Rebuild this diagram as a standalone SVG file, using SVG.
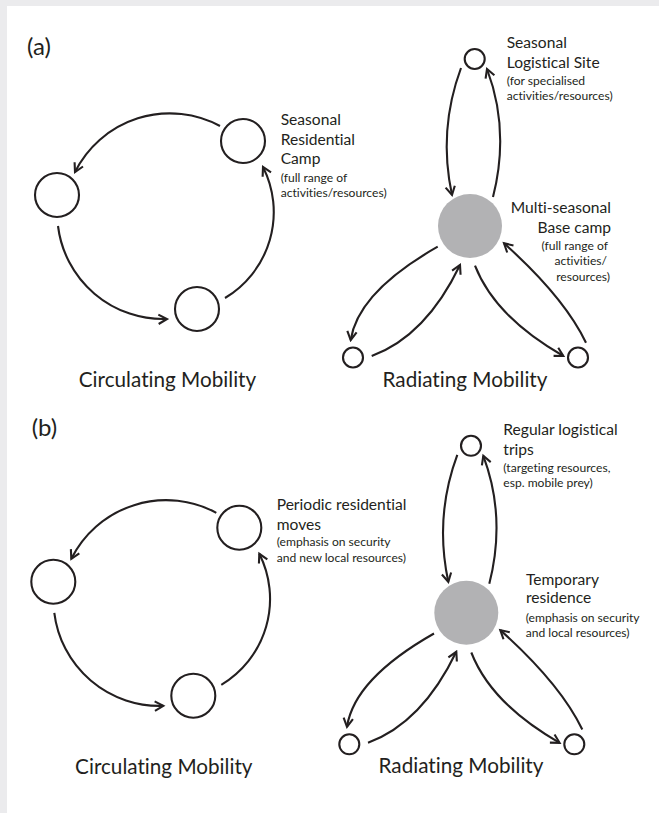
<svg xmlns="http://www.w3.org/2000/svg" width="659" height="813" viewBox="0 0 659 813">
<defs>
<style>
.n{fill:none;stroke:#231f20;stroke-width:2.1}
.hub{fill:#b2b2b4;stroke:none}
.c{fill:none;stroke:#231f20;stroke-width:2.1;marker-end:url(#arr)}
text{font-family:Lato,"Liberation Sans",sans-serif;fill:#231f20;font-variant-ligatures:none;font-feature-settings:"liga" 0}
.t{font-size:20.7px;text-anchor:middle}
.l{font-size:15.6px}
.s{font-size:12.1px}
.p{font-size:24px}
.e{text-anchor:end}
</style>
<marker id="arr" markerWidth="13" markerHeight="13" viewBox="0 0 13 13" refX="10.5" refY="6.5" orient="auto" markerUnits="userSpaceOnUse">
<path d="M2,1.8 L10.5,6.5 L2,11.2" fill="none" stroke="#231f20" stroke-width="2.1"/>
</marker>
</defs>
<rect x="0" y="0" width="659" height="813" fill="#ebebed"/>
<rect x="7" y="6" width="652" height="807" fill="#ffffff"/>

<g id="connectors">
<g id="connectors-a">
<path class="c" d="M220,126 A106,106 0 0 0 75,172"/>
<path class="c" d="M58,226 A106,106 0 0 0 167,319"/>
<path class="c" d="M225,298 A100,100 0 0 0 263,167"/>
<path class="c" d="M461,68 Q438,130 452,195"/>
<path class="c" d="M493,197 Q510,130 487,69"/>
<path class="c" d="M437.7,246.7 Q358,292 350.7,340"/>
<path class="c" d="M371.7,356 Q426,336 460,265"/>
<path class="c" d="M475,265.7 Q495,317 563.3,356"/>
<path class="c" d="M586,342.7 Q564,297 504,243.3"/>
</g>
<g id="connectors-b" transform="translate(-3.7,386.8)">
<path class="c" d="M220,126 A106,106 0 0 0 75,172"/>
<path class="c" d="M58,226 A106,106 0 0 0 167,319"/>
<path class="c" d="M225,298 A100,100 0 0 0 263,167"/>
<path class="c" d="M461,68 Q438,130 452,195"/>
<path class="c" d="M493,197 Q510,130 487,69"/>
<path class="c" d="M437.7,246.7 Q358,292 350.7,340"/>
<path class="c" d="M371.7,356 Q426,336 460,265"/>
<path class="c" d="M475,265.7 Q495,317 563.3,356"/>
<path class="c" d="M586,342.7 Q564,297 504,243.3"/>
</g>
</g>

<g id="panel-a">
<text class="p" x="27" y="55">(a)</text>
<g id="a-circ-camp">
<circle class="n" cx="243" cy="141" r="22"/>
<text class="l" x="280.7" y="125">Seasonal</text>
<text class="l" x="280.7" y="145">Residential</text>
<text class="l" x="280.7" y="164">Camp</text>
<text class="s" x="280.7" y="181.7">(full range of</text>
<text class="s" x="280.7" y="196.7">activities/resources)</text>
</g>
<g id="a-circ-left"><circle class="n" cx="57" cy="195" r="22"/></g>
<g id="a-circ-bottom"><circle class="n" cx="197" cy="309" r="22"/></g>
<text class="t" x="167.5" y="387.3">Circulating Mobility</text>

<g id="a-rad-logistic">
<circle class="n" cx="474.7" cy="59" r="10"/>
<text class="l" x="506.7" y="48">Seasonal</text>
<text class="l" x="506.7" y="68">Logistical Site</text>
<text class="s" x="506.7" y="84.5">(for specialised</text>
<text class="s" x="506.7" y="99.5">activities/resources)</text>
</g>
<g id="a-rad-base">
<circle class="hub" cx="470" cy="226" r="32"/>
<text class="l e" x="611" y="213">Multi-seasonal</text>
<text class="l e" x="611" y="233">Base camp</text>
<text class="s e" x="608" y="250">(full range of</text>
<text class="s e" x="607" y="265">activities/</text>
<text class="s e" x="610" y="281">resources)</text>
</g>
<g id="a-rad-left"><circle class="n" cx="353" cy="357.5" r="10"/></g>
<g id="a-rad-right"><circle class="n" cx="578" cy="357.5" r="10"/></g>
<text class="t" x="465" y="386.7">Radiating Mobility</text>
</g>

<g id="panel-b">
<text class="p" x="31.7" y="436">(b)</text>
<g id="b-circ-moves">
<circle class="n" cx="239.3" cy="527.8" r="22"/>
<text class="l" x="276.7" y="510">Periodic residential</text>
<text class="l" x="276.7" y="530">moves</text>
<text class="s" x="276.7" y="546">(emphasis on security</text>
<text class="s" x="276.7" y="561.7">and new local resources)</text>
</g>
<g id="b-circ-left"><circle class="n" cx="53.3" cy="581.8" r="22"/></g>
<g id="b-circ-bottom"><circle class="n" cx="193.3" cy="695.8" r="22"/></g>
<text class="t" x="163.8" y="774">Circulating Mobility</text>

<g id="b-rad-trips">
<circle class="n" cx="471" cy="445.8" r="10"/>
<text class="l" x="503.3" y="435">Regular logistical</text>
<text class="l" x="503.3" y="455">trips</text>
<text class="s" x="503.3" y="471.7">(targeting resources,</text>
<text class="s" x="503.3" y="486.7">esp. mobile prey)</text>
</g>
<g id="b-rad-residence">
<circle class="hub" cx="466.3" cy="612.8" r="32"/>
<text class="l" x="526" y="585">Temporary</text>
<text class="l" x="526" y="603">residence</text>
<text class="s" x="525.7" y="621.7">(emphasis on security</text>
<text class="s" x="525.7" y="636.7">and local resources)</text>
</g>
<g id="b-rad-left"><circle class="n" cx="349.3" cy="744.3" r="10"/></g>
<g id="b-rad-right"><circle class="n" cx="574.3" cy="744.3" r="10"/></g>
<text class="t" x="461" y="773.3">Radiating Mobility</text>
</g>
</svg>
